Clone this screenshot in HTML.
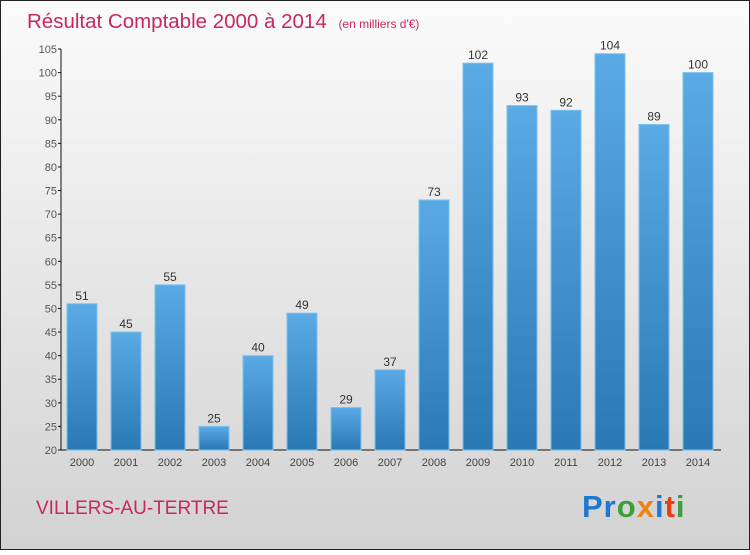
<!DOCTYPE html>
<html><head><meta charset="utf-8"><style>
body{margin:0;width:750px;height:550px;overflow:hidden;font-family:"Liberation Sans",sans-serif}
</style></head><body>
<svg width="750" height="550" xmlns="http://www.w3.org/2000/svg">
<defs>
<linearGradient id="bg" x1="0" y1="0" x2="0" y2="1"><stop offset="0" stop-color="#fbfbfb"/><stop offset="1" stop-color="#d2d2d2"/></linearGradient>
<linearGradient id="bar" x1="0" y1="0" x2="0" y2="1"><stop offset="0" stop-color="#5aaae6"/><stop offset="1" stop-color="#2a78b4"/></linearGradient>
</defs>
<rect x="0.5" y="0.5" width="749" height="549" fill="url(#bg)" stroke="#222"/>
<text x="27" y="28" font-size="20.5" fill="#c8285a">Résultat Comptable 2000 à 2014 <tspan font-size="12" dx="6">(en milliers d'€)</tspan></text>
<g id="axes"></g>
<g id="bars"></g>
<text x="36" y="514" font-size="19" fill="#c8285a">VILLERS-AU-TERTRE</text>
<g font-size="31" font-weight="bold">
<text x="582" y="517" letter-spacing="1"><tspan fill="#1e78d2">Pr</tspan><tspan fill="#3aa03a">o</tspan><tspan fill="#f08214">x</tspan><tspan fill="#1e78d2">i</tspan><tspan fill="#e83c14">t</tspan><tspan fill="#3aa03a">i</tspan></text>
</g>
</svg>
<script>
const years=["2000","2001","2002","2003","2004","2005","2006","2007","2008","2009","2010","2011","2012","2013","2014"];
const values=[51,45,55,25,40,49,29,37,73,102,93,92,104,89,100];
const yTicks=[20,25,30,35,40,45,50,55,60,65,70,75,80,85,90,95,100,105];
const NS="http://www.w3.org/2000/svg";
function y(v){return 450-(v-20)*401/85;}
function x(i){return 82+i*44;}
function mk(t,a,p){const e=document.createElementNS(NS,t);for(const k in a)e.setAttribute(k,a[k]);p.appendChild(e);return e;}
const ax=document.getElementById('axes'),bg=document.getElementById('bars');
const yl=mk('line',{x1:61,y1:y(105),x2:61,y2:450,stroke:'#111'},ax);


const xl=mk('line',{x1:61,y1:450,x2:721,y2:450,stroke:'#111'},ax);


yTicks.forEach(t=>{
 mk('line',{x1:58,x2:61,y1:y(t),y2:y(t),stroke:'#111'},ax);
 const tx=mk('text',{x:57,y:y(t)+4,'font-size':11,fill:'#555','text-anchor':'end'},ax);
 tx.textContent=t;
 
 
});
years.forEach((yr,i)=>{
 const v=values[i];
 const r=mk('rect',{x:x(i)-15,y:y(v),width:30,height:450-y(v),fill:'url(#bar)',stroke:'#7cc0ee','stroke-width':1},bg);
 
 
 const l=mk('text',{x:x(i),y:y(v)-4,'font-size':12,fill:'#333','text-anchor':'middle'},bg);
 l.textContent=v;
 
 
 const xt=mk('text',{x:x(i),y:466,'font-size':11,fill:'#444','text-anchor':'middle'},ax);
 xt.textContent=yr;
 
 
});
</script>
</body></html>
